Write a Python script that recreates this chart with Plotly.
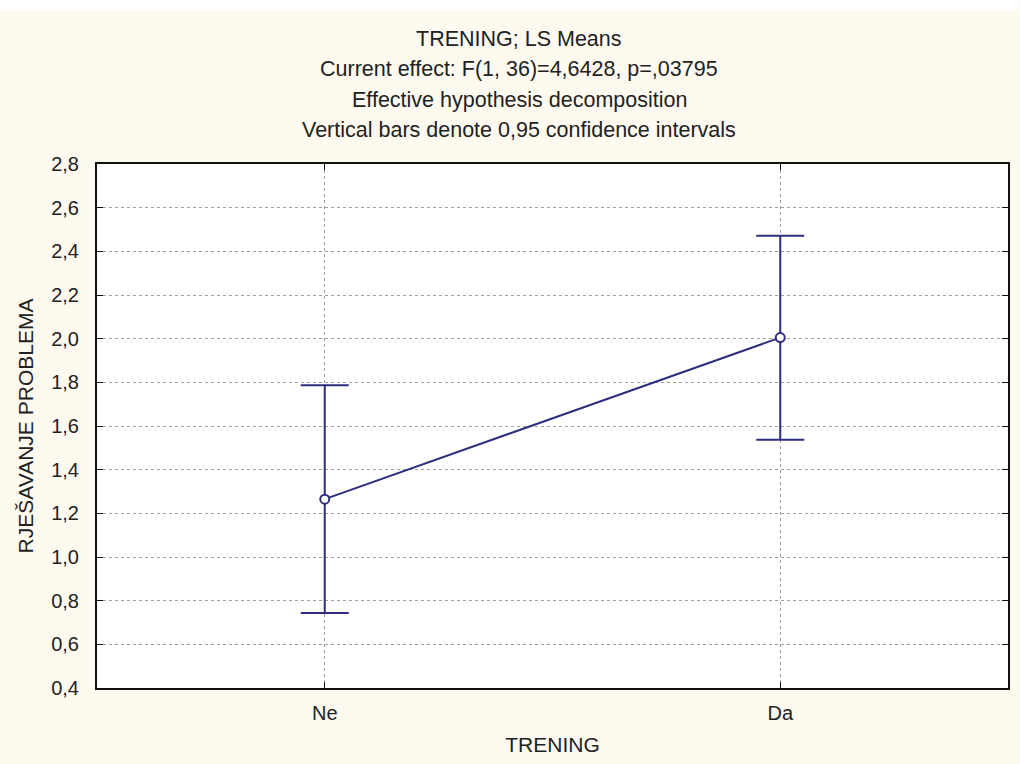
import plotly.graph_objects as go

categories = ["Ne", "Da"]
means = [1.265, 2.005]
ci_upper = [1.787, 2.471]
ci_lower = [0.743, 1.537]
y_ticks = [0.4, 0.6, 0.8, 1.0, 1.2, 1.4, 1.6, 1.8, 2.0, 2.2, 2.4, 2.6, 2.8]
y_tick_text = [f"{v:.1f}".replace(".", ",") for v in y_ticks]
title_lines = [
    "TRENING; LS Means",
    "Current effect: F(1, 36)=4,6428, p=,03795",
    "Effective hypothesis decomposition",
    "Vertical bars denote 0,95 confidence intervals",
]

navy = "#2e2e7e"
font_family = "Liberation Sans, Arial, sans-serif"
text_color = "#222222"

err_plus = [u - m for u, m in zip(ci_upper, means)]
err_minus = [m - l for m, l in zip(means, ci_lower)]

fig = go.Figure()
fig.add_trace(go.Scatter(
    x=[0, 1], y=means, mode="lines+markers",
    line=dict(color=navy, width=2),
    marker=dict(symbol="circle", size=9, color="white", line=dict(color=navy, width=2)),
    error_y=dict(type="data", symmetric=False, array=err_plus, arrayminus=err_minus,
                 color=navy, thickness=2, width=24),
    showlegend=False,
))

L, R, T, B = 97, 10, 164, 76
W, H = 1020, 764
pw, ph = W - L - R, H - T - B

def px_to_paper_y(py):
    return (H - B - py) / ph

def px_to_paper_x(px):
    return (px - L) / pw

annotations = []
for line, py in zip(title_lines, [39, 69, 100, 130]):
    annotations.append(dict(
        text=line, x=px_to_paper_x(520), y=px_to_paper_y(py), xref="paper", yref="paper",
        xanchor="center", yanchor="middle", showarrow=False,
        font=dict(family=font_family, size=21.5, color=text_color),
    ))

fig.update_layout(
    width=W, height=H,
    margin=dict(l=L, r=R, t=T, b=B, pad=0),
    paper_bgcolor="#fffaf0",
    plot_bgcolor="white",
    font=dict(family=font_family, size=20, color=text_color),
    annotations=annotations,
    shapes=[dict(type="rect", xref="paper", yref="paper",
                 x0=px_to_paper_x(0), x1=px_to_paper_x(W),
                 y0=px_to_paper_y(10), y1=px_to_paper_y(0),
                 fillcolor="white", line=dict(width=0), layer="below")],
)

fig.update_xaxes(
    range=[-0.5, 1.5], tickvals=[0, 1], ticktext=categories,
    showline=True, linecolor="#111111", linewidth=2, mirror="ticks",
    ticks="inside", ticklen=6, tickcolor="#111111", tickwidth=1,
    showgrid=True, gridcolor="#a0a0a0", griddash="dot", gridwidth=1,
    zeroline=False,
    title=dict(text="TRENING", standoff=14, font=dict(size=21)),
    tickfont=dict(size=20), ticklabelstandoff=6,
)
fig.update_yaxes(
    range=[0.4, 2.8], tickvals=y_ticks, ticktext=y_tick_text,
    showline=True, linecolor="#111111", linewidth=2, mirror="ticks",
    ticks="inside", ticklen=6, tickcolor="#111111", tickwidth=1,
    showgrid=True, gridcolor="#a0a0a0", griddash="dot", gridwidth=1,
    zeroline=False,
    title=dict(text="RJEŠAVANJE PROBLEMA", standoff=12, font=dict(size=21)),
    tickfont=dict(size=20), ticklabelstandoff=12,
)

fig.write_html("out.html", config={"displayModeBar": False},
               post_script="document.body.style.margin='0';")
